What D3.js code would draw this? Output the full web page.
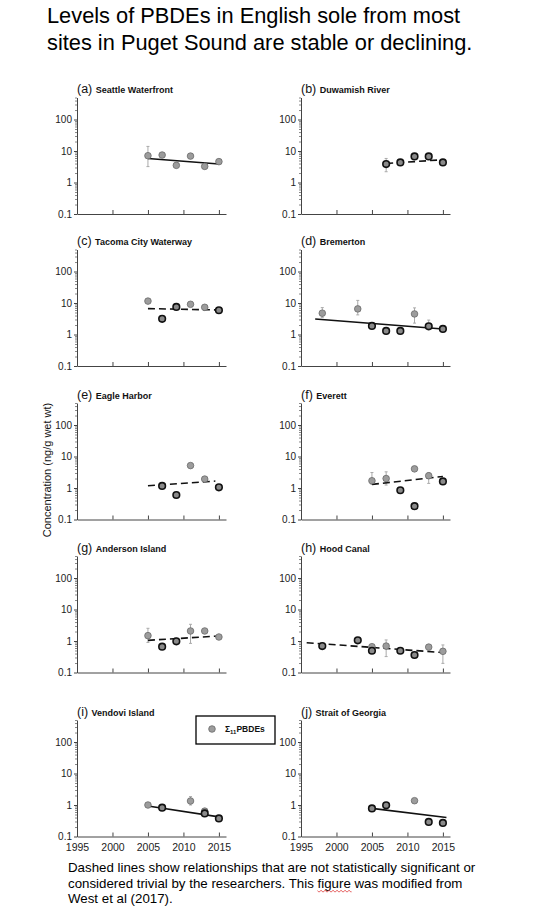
<!DOCTYPE html>
<html>
<head>
<meta charset="utf-8">
<script src="https://cdn.jsdelivr.net/npm/d3@7"></script>
<style>
  body { margin: 0; background: #fff; }
  text { font-family: "Liberation Sans", Arial, sans-serif; }
</style>
</head>
<body>
<svg id="chart" width="556" height="908"></svg>
<script>
// Data
const panelTags = ["(a)", "(b)", "(c)", "(d)", "(e)", "(f)", "(g)", "(h)", "(i)", "(j)"];
const sites = ["Seattle Waterfront", "Duwamish River", "Tacoma City Waterway", "Bremerton",
  "Eagle Harbor", "Everett", "Anderson Island", "Hood Canal", "Vendovi Island", "Strait of Georgia"];

const sampleYears = [
  [2005, 2007, 2009, 2011, 2013, 2015],
  [2007, 2009, 2011, 2013, 2015],
  [2005, 2007, 2009, 2011, 2013, 2015],
  [1998, 2003, 2005, 2007, 2009, 2011, 2013, 2015],
  [2007, 2009, 2011, 2013, 2015],
  [2005, 2007, 2009, 2011, 2011, 2013, 2015],
  [2005, 2007, 2009, 2011, 2013, 2015],
  [1998, 2003, 2005, 2005, 2007, 2009, 2011, 2013, 2015],
  [2005, 2007, 2011, 2013, 2013, 2015],
  [2005, 2007, 2011, 2013, 2015]
];
// Σ11PBDEs, ng/g wet wt
const pbde = [
  [7.1, 7.45, 3.5, 6.9, 3.25, 4.6],
  [3.85, 4.35, 6.75, 6.75, 4.35],
  [11.5, 3.15, 7.5, 9.1, 7.3, 5.9],
  [4.75, 6.5, 1.87, 1.3, 1.3, 4.5, 1.82, 1.5],
  [1.16, 0.6, 5.15, 1.92, 1.05],
  [1.7, 2.0, 0.85, 4.05, 0.265, 2.45, 1.62],
  [1.48, 0.66, 0.98, 2.08, 2.08, 1.34],
  [0.69, 1.05, 0.66, 0.49, 0.69, 0.49, 0.36, 0.64, 0.47],
  [1.0, 0.82, 1.34, 0.64, 0.54, 0.375],
  [0.78, 0.98, 1.37, 0.29, 0.27]
];
const errLow = [
  [3.2, null, null, null, null, null],
  [2.2, null, null, null, null],
  [null, null, null, null, null, null],
  [3.5, 4.2, null, null, null, 2.3, 1.5, null],
  [null, null, null, null, null],
  [1.3, 1.24, null, null, null, 1.4, null],
  [0.9, null, null, 0.84, null, null],
  [null, null, null, null, 0.32, null, null, null, 0.195],
  [null, null, 1.0, null, null, null],
  [null, null, null, null, null]
];
const errHigh = [
  [14, null, null, null, null, null],
  [5.8, null, null, null, null],
  [null, null, null, null, null, null],
  [7.15, 12.1, null, null, null, 7.0, 2.87, null],
  [null, null, null, null, null],
  [3.1, 3.26, null, null, null, 3.1, null],
  [2.53, null, null, 3.39, null, null],
  [null, null, null, null, 1.08, null, null, null, 0.75],
  [null, null, 1.85, null, null, null],
  [null, null, null, null, null]
];
// markers drawn with the heavy outline in the original figure
const heavyMarker = [
  [0, 0, 0, 0, 0, 0],
  [1, 1, 1, 1, 1],
  [0, 1, 1, 0, 0, 1],
  [0, 0, 1, 1, 1, 0, 1, 1],
  [1, 1, 0, 0, 1],
  [0, 0, 1, 0, 1, 0, 1],
  [0, 1, 1, 0, 0, 0],
  [1, 1, 0, 1, 0, 1, 1, 0, 0],
  [0, 1, 0, 0, 1, 1],
  [1, 1, 0, 1, 1]
];
// trend lines: [year, value] at each end; significant ones drawn solid
const trendStart = [[2005, 5.8], [2007, 4.0], [2005, 6.65], [1997, 3.09], [2005, 1.18],
  [2005, 1.3], [2005, 1.05], [1995.8, 0.885], [2005, 0.93], [2005, 0.78]];
const trendEnd = [[2015, 3.85], [2015, 5.3], [2015, 6.0], [2015, 1.5], [2014.5, 1.66],
  [2015, 2.33], [2015, 1.44], [2015, 0.43], [2015, 0.42], [2015.5, 0.40]];
const trendSignificant = [true, false, false, true, false, false, false, false, true, true];

const yearTicks = [1995, 2000, 2005, 2010, 2015];
const concTicks = [0.1, 1, 10, 100];

// Layout
const svg = d3.select("#chart");
const rowBottoms = [214, 366, 519.5, 672.5, 836.5];
const colLefts = [77, 301];
const plotW = 149;
const plotH = 116.5;
const fontFamily = '"Liberation Sans", Arial, sans-serif';

const minorTicks = [];
[0.1, 1, 10, 100].forEach(base => {
  for (let k = 2; k <= 9; k++) if (base * k <= 500) minorTicks.push(base * k);
});

sites.forEach((site, i) => {
  const col = i % 2;
  const row = Math.floor(i / 2);
  const x0 = colLefts[col];
  const yb = rowBottoms[row];

  const x = d3.scaleLinear().domain([1995, 2016]).range([x0, x0 + plotW]);
  const y = d3.scaleLog().domain([0.1, 500]).range([yb, yb - plotH]);

  const g = svg.append("g");

  // minor ticks
  g.append("g")
    .attr("transform", `translate(${x0},0)`)
    .call(d3.axisLeft(y).tickValues(minorTicks).tickSize(2).tickFormat(""))
    .call(a => a.select(".domain").remove())
    .call(a => a.selectAll("line").attr("stroke", "#888"));

  // y axis
  g.append("g")
    .attr("transform", `translate(${x0},0)`)
    .call(d3.axisLeft(y).tickValues(concTicks).tickSize(3).tickSizeOuter(0).tickPadding(2)
      .tickFormat(d => String(d)))
    .call(a => a.select(".domain").attr("stroke", "#444"))
    .call(a => a.selectAll("line").attr("stroke", "#444"))
    .call(a => a.selectAll("text").attr("font-size", 10).attr("fill", "#222")
      .style("font-family", fontFamily));

  // x axis
  const xAxis = d3.axisBottom(x).tickValues(yearTicks).tickSizeInner(-4).tickSizeOuter(0)
    .tickPadding(7).tickFormat(d3.format("d"));
  if (row < 4) xAxis.tickFormat("");
  g.append("g")
    .attr("transform", `translate(0,${yb})`)
    .call(xAxis)
    .call(a => a.select(".domain").attr("stroke", "#444"))
    .call(a => a.selectAll("line").attr("stroke", "#444"))
    .call(a => a.selectAll("text").attr("font-size", 10.5).attr("fill", "#222")
      .style("font-family", fontFamily));

  // panel title
  const title = g.append("text")
    .attr("x", x0)
    .attr("y", yb - 121)
    .attr("fill", "#111");
  title.append("tspan").attr("font-size", 12.5).text(panelTags[i] + " ");
  title.append("tspan").attr("font-size", 9).attr("font-weight", "bold").text(site);

  // error bars
  sampleYears[i].forEach((yr, j) => {
    const lo = errLow[i][j], hi = errHigh[i][j];
    if (lo == null || hi == null) return;
    const cx = x(yr);
    g.append("line").attr("x1", cx).attr("x2", cx).attr("y1", y(lo)).attr("y2", y(hi))
      .attr("stroke", "#aaa").attr("stroke-width", 1);
    [lo, hi].forEach(v => {
      g.append("line").attr("x1", cx - 1.5).attr("x2", cx + 1.5).attr("y1", y(v)).attr("y2", y(v))
        .attr("stroke", "#aaa").attr("stroke-width", 1);
    });
  });

  // trend line
  g.append("line")
    .attr("x1", x(trendStart[i][0])).attr("y1", y(trendStart[i][1]))
    .attr("x2", x(trendEnd[i][0])).attr("y2", y(trendEnd[i][1]))
    .attr("stroke", "#111")
    .attr("stroke-width", 1.6)
    .attr("stroke-dasharray", trendSignificant[i] ? null : "7,4");

  // points
  const pts = sampleYears[i].map((yr, j) => ({ yr, v: pbde[i][j], heavy: heavyMarker[i][j] }));
  g.selectAll("circle.pt")
    .data(pts)
    .enter()
    .append("circle")
    .attr("class", "pt")
    .attr("cx", d => x(d.yr))
    .attr("cy", d => y(d.v))
    .attr("r", 3.3)
    .attr("fill", d => d.heavy ? "#8a8a8a" : "#9c9c9c")
    .attr("stroke", d => d.heavy ? "#111" : "#6a6a6a")
    .attr("stroke-width", d => d.heavy ? 1.6 : 0.8);
});

// legend
const legend = svg.append("g").attr("transform", "translate(196,716)");
legend.append("rect").attr("width", 79).attr("height", 28)
  .attr("fill", "#fff").attr("stroke", "#000").attr("stroke-width", 1.3);
legend.append("circle").attr("cx", 16).attr("cy", 13).attr("r", 3.3)
  .attr("fill", "#9c9c9c").attr("stroke", "#6a6a6a").attr("stroke-width", 0.8);
const lt = legend.append("text").attr("x", 29).attr("y", 16).attr("font-size", 8.5)
  .attr("font-weight", "bold").attr("fill", "#111");
lt.append("tspan").text("Σ");
lt.append("tspan").attr("font-size", 6).attr("dy", 2).text("11");
lt.append("tspan").attr("dy", -2).text("PBDEs");

// y axis title
svg.append("text")
  .attr("transform", "translate(51,470) rotate(-90)")
  .attr("text-anchor", "middle")
  .attr("font-size", 11)
  .attr("fill", "#111")
  .text("Concentration (ng/g wet wt)");

// heading
const heading = ["Levels of PBDEs in English sole from most",
  "sites in Puget Sound are stable or declining."];
svg.selectAll("text.heading")
  .data(heading)
  .enter()
  .append("text")
  .attr("class", "heading")
  .attr("x", 47)
  .attr("y", (d, i) => 23 + i * 27)
  .attr("font-size", 21.8)
  .attr("fill", "#000")
  .text(d => d);

// footnote
const footnote = ["Dashed lines show relationships that are not statistically significant or",
  "considered trivial by the researchers. This figure was modified from",
  "West et al (2017)."];
const notes = svg.selectAll("text.note")
  .data(footnote)
  .enter()
  .append("text")
  .attr("class", "note")
  .attr("x", 68)
  .attr("y", (d, i) => 872 + i * 15.6)
  .attr("font-size", 13.3)
  .attr("fill", "#000")
  .text(d => d);

// spell-check squiggle under "figure"
const line2 = notes.nodes()[1];
const idx = footnote[1].indexOf("figure");
const sx = 68 + line2.getSubStringLength(0, idx);
const sw = line2.getSubStringLength(idx, 6);
let squiggle = `M${sx},${872 + 15.6 + 3}`;
for (let k = 0; k * 2 < sw; k++) squiggle += ` l1,${k % 2 ? -1.2 : 1.2} l1,0`;
svg.append("path").attr("d", squiggle).attr("fill", "none").attr("stroke", "#d33").attr("stroke-width", 0.8);
</script>
</body>
</html>
